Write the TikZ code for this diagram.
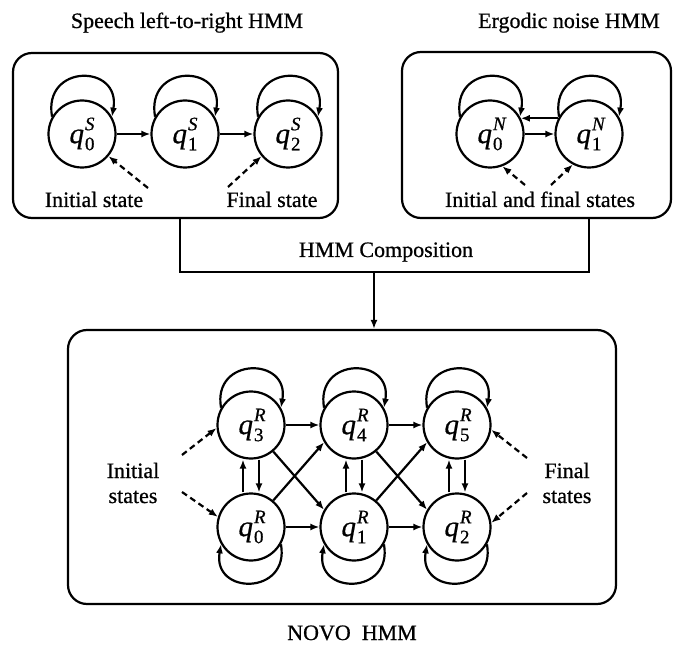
\documentclass[tikz,border=0pt]{standalone}
\usepackage{fontspec}
\setmainfont{Liberation Serif}[FakeBold=0.7]
\usetikzlibrary{arrows.meta}
\newcommand{\qst}[2]{\textit{q}\kern1pt\rlap{\raisebox{13pt}{\fontsize{19}{19}\selectfont\textit{#1}}}\raisebox{-7pt}{\fontsize{19}{19}\selectfont #2}}
\begin{document}
\begin{tikzpicture}[x=1pt,y=1pt,
  lbl/.style={inner sep=0pt,font=\fontsize{22}{25}\selectfont},
  st/.style={circle,draw,line width=2.2pt,minimum size=67pt,inner sep=0pt,font=\fontsize{29}{30}\selectfont},
  box/.style={draw,line width=2.2pt,rounded corners=19pt,inner sep=0pt},
  arr/.style={line width=2.2pt,-{Latex[length=9pt,width=7pt]}},
  darr/.style={arr,dash pattern=on 6pt off 4pt},
  plain/.style={line width=2.2pt}
]
\useasboundingbox (0,0) rectangle (675,-647);

% boxes
\node[box,minimum width=325pt,minimum height=165pt] (lbox) at (175.5,-135.5) {};
\node[box,minimum width=269pt,minimum height=166pt] (rbox) at (536.5,-135) {};
\node[box,minimum width=548pt,minimum height=274pt] (nbox) at (342,-467) {};

% titles
\node[lbl,anchor=base] (t1) at (187,-28) {Speech left-to-right HMM};
\node[lbl,anchor=base] (t2) at (569,-28) {Ergodic noise HMM};
\node[lbl,anchor=base] (t3) at (386,-257) {HMM Composition};
\node[lbl,anchor=base] (t4) at (352,-640) {NOVO\ \ HMM};

% left HMM
\node[st] (s0) at (82,-134) {\qst{S}{0}};
\node[st] (s1) at (185,-134) {\qst{S}{1}};
\node[st] (s2) at (288,-134) {\qst{S}{2}};
\foreach \n in {s0,s1,s2}
  \draw[arr] (\n.150) .. controls +(100:54) and +(80:54) .. (\n.30);
\draw[arr] (s0) -- (s1);
\draw[arr] (s1) -- (s2);
\node[lbl,anchor=base] (li) at (94,-207) {Initial state};
\node[lbl,anchor=base] (lf) at (272,-207) {Final state};
\coordinate (di) at (148,-188);
\coordinate (df) at (228,-187);
\draw[darr] (di) -- (s0.-40);
\draw[darr] (df) -- (s2.-140);

% right HMM
\node[st] (n0) at (490,-134) {\qst{N}{0}};
\node[st] (n1) at (589,-134) {\qst{N}{1}};
\foreach \n in {n0,n1}
  \draw[arr] (\n.150) .. controls +(100:54) and +(80:54) .. (\n.30);
\draw[arr] (n1.153) -- (n0.27);
\draw[arr] (n0.east) -- (n1.west);
\node[lbl,anchor=base] (rl) at (540,-207) {Initial and final states};
\coordinate (dn0) at (525,-185);
\coordinate (dn1) at (551,-185);
\draw[darr] (dn0) -- (n0.-69);
\draw[darr] (dn1) -- (n1.-118);

% composition
\coordinate (jl) at (180,-272);
\coordinate (jr) at (589,-272);
\coordinate (jm) at (374,-272);
\draw[plain] (lbox.south -| jl) -- (jl) -- (jr) -- (rbox.south -| jr);
\draw[arr] (jm) -- (nbox.north -| jm);

% NOVO HMM
\node[st] (r3) at (251,-425) {\qst{R}{3}};
\node[st] (r4) at (354,-425) {\qst{R}{4}};
\node[st] (r5) at (457,-425) {\qst{R}{5}};
\node[st] (r0) at (251,-527) {\qst{R}{0}};
\node[st] (r1) at (354,-527) {\qst{R}{1}};
\node[st] (r2) at (457,-527) {\qst{R}{2}};
\foreach \n in {r3,r4,r5}
  \draw[arr] (\n.150) .. controls +(100:52) and +(80:52) .. (\n.30);
\foreach \n in {r0,r1,r2}
  \draw[arr] (\n.-30) .. controls +(-80:52) and +(-100:52) .. (\n.-150);
\draw[arr] (r3) -- (r4);
\draw[arr] (r4) -- (r5);
\draw[arr] (r0) -- (r1);
\draw[arr] (r1) -- (r2);
\foreach \a/\b in {r0/r3,r1/r4,r2/r5}{
  \draw[arr] ([xshift=-8pt]\a.north) -- ([xshift=-8pt]\b.south);
  \draw[arr] ([xshift=8pt]\b.south) -- ([xshift=8pt]\a.north);
}
\draw[arr] (r3.-50) -- (r1.150);
\draw[arr] (r0.50) -- (r4.-150);
\draw[arr] (r4.-50) -- (r2.150);
\draw[arr] (r1.50) -- (r5.-150);

\node[lbl,align=center] (ni) at (133,-483) {Initial\\states};
\node[lbl,align=center] (nf) at (567,-483) {Final\\states};
\coordinate (ia) at (182,-455);
\coordinate (ib) at (182,-492);
\coordinate (fa) at (527,-458);
\coordinate (fb) at (527,-493);
\draw[darr] (ia) -- (r3.185);
\draw[darr] (ib) -- (r0.163);
\draw[darr] (fa) -- (r5.-8);
\draw[darr] (fb) -- (r2.7);
\end{tikzpicture}
\end{document}
